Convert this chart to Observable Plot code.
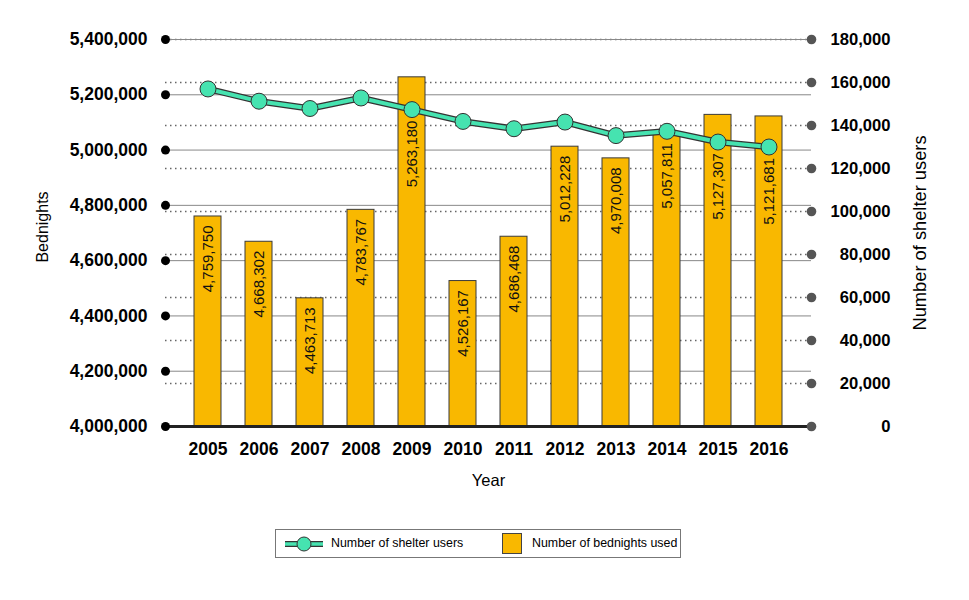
<!DOCTYPE html>
<html>
<head>
<meta charset="utf-8">
<script src="https://cdn.jsdelivr.net/npm/d3@7"></script>
<script src="https://cdn.jsdelivr.net/npm/@observablehq/plot@0.6"></script>
<style>
  body { margin: 0; background: #fff; }
  #wrap { position: relative; width: 969px; height: 600px; font-family: 'Liberation Sans', Arial, sans-serif; }
  #legend { position: absolute; left: 275px; top: 529px; width: 406px; height: 29px; border: 1px solid #777; box-sizing: border-box; background: #fff; }
  #legend .t { position: absolute; top: 6px; font-size: 12.4px; color: #000; white-space: nowrap; }
</style>
</head>
<body>
<div id="wrap">
  <div id="chart"></div>
  <div id="legend">
    <svg style="position:absolute;left:8px;top:4px" width="40" height="20">
      <line x1="1" y1="10" x2="39" y2="10" stroke="#333" stroke-width="6"/>
      <line x1="1" y1="10" x2="39" y2="10" stroke="#46e3b0" stroke-width="3.5"/>
      <circle cx="20" cy="10" r="7" fill="#46e3b0" stroke="#333" stroke-width="1"/>
    </svg>
    <span class="t" style="left:55px">Number of shelter users</span>
    <div style="position:absolute;left:226px;top:3px;width:20px;height:21px;background:#f9b800;border:1px solid #444;box-sizing:border-box"></div>
    <span class="t" style="left:256px">Number of bednights used</span>
  </div>
</div>
<script>
const years = ["2005","2006","2007","2008","2009","2010","2011","2012","2013","2014","2015","2016"];
const bednights = [4759750, 4668302, 4463713, 4783767, 5263180, 4526167, 4686468, 5012228, 4970008, 5057811, 5127307, 5121681];
const shelterUsers = [157000, 151300, 147900, 152800, 147400, 141900, 138500, 141600, 135300, 137300, 132300, 130000];
const leftTicks = [4000000, 4200000, 4400000, 4600000, 4800000, 5000000, 5200000, 5400000];
const rightTicks = [0, 20000, 40000, 60000, 80000, 100000, 120000, 140000, 160000, 180000];

const yMin = 4000000, yMax = 5400000, rMax = 180000;
const toLeft = u => yMin + u * (yMax - yMin) / rMax;

const W = 969, H = 510, mL = 165, mR = 158, mT = 39, mB = 84;
const upp = (yMax - yMin) / (H - mT - mB); // data units per pixel

const data = years.map((y, i) => ({
  year: y,
  beds: bednights[i],
  users: shelterUsers[i],
  usersMapped: toLeft(shelterUsers[i]),
  labelAt: Math.min(bednights[i] - 9 * upp, toLeft(shelterUsers[i]) - 11 * upp)
}));

const fmt = d3.format(",");
const font = "'Liberation Sans', Arial, sans-serif";

const chart = Plot.plot({
  width: W, height: H,
  marginLeft: mL, marginRight: mR, marginTop: mT, marginBottom: mB,
  style: { fontFamily: font, background: "#fff", color: "#000", overflow: "visible" },
  x: { type: "band", domain: years, paddingInner: 0.466, paddingOuter: 0.458, axis: null },
  y: { domain: [yMin, yMax], axis: null },
  marks: [
    // right-axis dotted grid
    Plot.ruleY(rightTicks.filter(d => d > 0).map(toLeft), { stroke: "#666", strokeWidth: 1.5, strokeDasharray: "1.5,3.5" }),
    // left-axis solid grid
    Plot.ruleY(leftTicks.filter(d => d > yMin), { stroke: "#888", strokeWidth: 1 }),
    // bars
    Plot.barY(data, { x: "year", y1: yMin, y2: "beds", fill: "#f9b800", stroke: "#3a3a3a", strokeWidth: 1 }),
    // baseline
    Plot.ruleY([yMin], { stroke: "#222", strokeWidth: 3 }),
    // bar value labels
    Plot.text(data, { x: "year", y: "labelAt", text: d => fmt(d.beds), rotate: -90, textAnchor: "end", fontSize: 15, fill: "#111" }),
    // line (shelter users)
    Plot.line(data, { x: "year", y: "usersMapped", stroke: "#333", strokeWidth: 6.5 }),
    Plot.line(data, { x: "year", y: "usersMapped", stroke: "#46e3b0", strokeWidth: 4 }),
    Plot.dot(data, { x: "year", y: "usersMapped", r: 8, fill: "#46e3b0", stroke: "#333", strokeWidth: 1 }),
    // left axis dots and labels
    Plot.dot(leftTicks, { y: d => d, frameAnchor: "left", r: 4.5, fill: "#000" }),
    Plot.text(leftTicks, { y: d => d, frameAnchor: "left", dx: -18, textAnchor: "end", text: d => fmt(d), fontSize: 17.5, fontWeight: "bold", fill: "#000" }),
    // right axis dots and labels
    Plot.dot(rightTicks, { y: d => toLeft(d), frameAnchor: "right", r: 4.8, fill: "#555" }),
    Plot.text(rightTicks, { y: d => toLeft(d), frameAnchor: "right", dx: 79, textAnchor: "end", text: d => fmt(d), fontSize: 16.6, fontWeight: "bold", fill: "#000" }),
    // x axis
    Plot.axisX({ tickSize: 0, tickPadding: 16, fontSize: 17.5, fontWeight: "bold", label: null }),
    // axis titles
    Plot.text(["Year"], { frameAnchor: "bottom", dy: 59, fontSize: 16.5, fill: "#000", textAnchor: "middle" }),
    Plot.text(["Bednights"], { frameAnchor: "left", dx: -123, dy: -6, rotate: -90, textAnchor: "middle", fontSize: 16, fill: "#000" }),
    Plot.text(["Number of shelter users"], { frameAnchor: "right", dx: 109, dy: 0, rotate: -90, textAnchor: "middle", fontSize: 18.3, fill: "#000" })
  ]
});
document.getElementById("chart").appendChild(chart);
</script>
</body>
</html>
